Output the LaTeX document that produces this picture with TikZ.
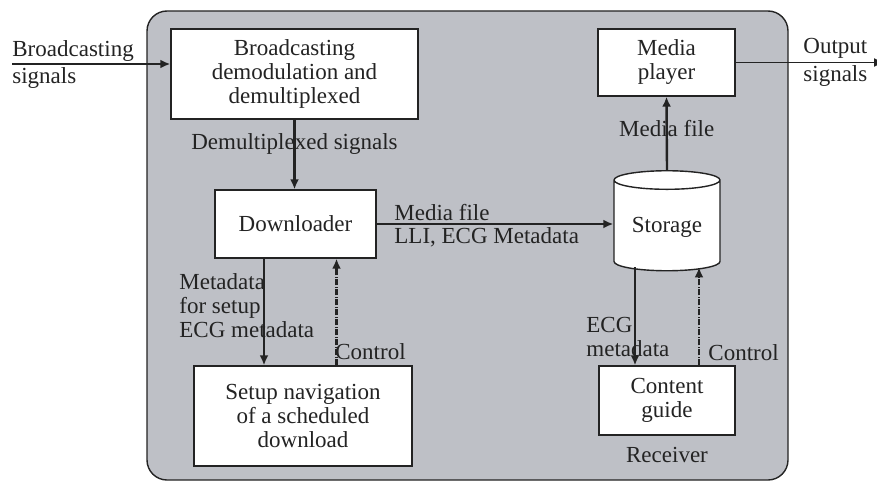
\documentclass[tikz,border=0pt]{standalone}
\usepackage{fontspec}
\setmainfont{Liberation Serif}
\usetikzlibrary{arrows.meta,shapes.geometric}
\definecolor{panel}{RGB}{190,192,198}
\definecolor{ink}{RGB}{35,35,35}

\begin{document}
\begin{tikzpicture}[x=0.5pt,y=-0.5pt,>={Latex[length=5pt,width=4.5pt]},
  every node/.style={font=\fontsize{11.5}{12}\selectfont,text=ink},
  block/.style={draw=ink,fill=white,line width=0.7pt,align=center,inner sep=1pt},
  flow/.style={->,draw=ink,line width=1.2pt},
  ctrl/.style={->,draw=ink,line width=1.2pt,dash pattern=on 3pt off 0.6pt on 0.8pt off 0.6pt},
  lbl/.style={align=left,inner sep=1pt}]

  \useasboundingbox (0,0) rectangle (877,481);
  % receiver panel
  \draw[fill=panel,draw=ink,line width=0.7pt,rounded corners=10pt] (147,11) rectangle (788,480);

  \node[block,minimum width=123.5pt,minimum height=45pt] (demux) at (294.5,74) {Broadcasting\\demodulation and\\demultiplexed};
  \node[block,minimum width=80.5pt,minimum height=34pt] (loader) at (295.5,224) {Downloader};
  \node[block,minimum width=109pt,minimum height=50pt] (setup) at (303,416) {Setup navigation\\of a scheduled\\download};
  \node[block,minimum width=68.5pt,minimum height=33.5pt] (player) at (666.5,62.5) {Media\\player};
  \node[block,cylinder,shape border rotate=90,aspect=0.25,minimum width=53pt,minimum height=50pt] (store) at (667,227) {Storage};
  \node[block,minimum width=68pt,minimum height=34.5pt] (guide) at (667,400.5) {Content\\guide};

  % outside signals
  \coordinate (in) at (12,64);
  \coordinate (out) at (884,62.5);
  \draw[flow] (in) -- (in -| demux.west);
  \node[lbl,anchor=south west,inner sep=0pt] (intop) at (12,62) {Broadcasting};
  \node[lbl,anchor=north west,inner sep=0pt] (inbot) at (12,67) {signals};
  \draw[->,draw=ink,line width=0.6pt] (player.east) -- (out);
  \node[lbl,anchor=south west,inner sep=0pt] (outtop) at (803,59) {Output};
  \node[lbl,anchor=north west,inner sep=0pt] (outbot) at (803,65) {signals};

  % data paths
  \draw[flow] (demux.south) -- (demux.south |- loader.north)
    node[pos=0.35,inner sep=0pt] (demuxlbl) {Demultiplexed signals};
  \draw[flow] ([xshift=-15.75pt]loader.south) -- ([xshift=-15.75pt]loader.south |- setup.north);
  \node[lbl,anchor=north west,inner sep=0pt] (metalbl) at (179,273) {Metadata\\for setup\\ECG metadata};
  \draw[ctrl] ([xshift=16.75pt]setup.north) -- ([xshift=16.75pt]setup.north |- loader.south);
  \node[lbl,anchor=west,inner sep=0pt] (ctrlleft) at (335,352) {Control};

  \draw[flow] (loader.east) -- (loader.east -| store.west);
  \node[lbl,anchor=south west,inner sep=0pt] (filetop) at (394,221) {Media file};
  \node[lbl,anchor=north west,inner sep=0pt] (filebot) at (394,227) {LLI, ECG Metadata};
  \draw[flow] (store.north) -- (player.south)
    node[pos=0.57,inner sep=0pt] (playlbl) {Media file};

  \draw[flow] ([xshift=-16pt,yshift=2pt]store.south) -- ([xshift=-16pt]store.south |- guide.north);
  \node[lbl,anchor=north west,inner sep=0pt] (ecglbl) at (586,317) {ECG\\metadata};
  \draw[ctrl] ([xshift=16pt]guide.north) -- ([xshift=16pt,yshift=2pt]store.south);
  \node[lbl,anchor=west,inner sep=0pt] (ctrlright) at (708,353) {Control};
  \node[inner sep=0pt] (recv) at (667,455) {Receiver};
\end{tikzpicture}
\end{document}
